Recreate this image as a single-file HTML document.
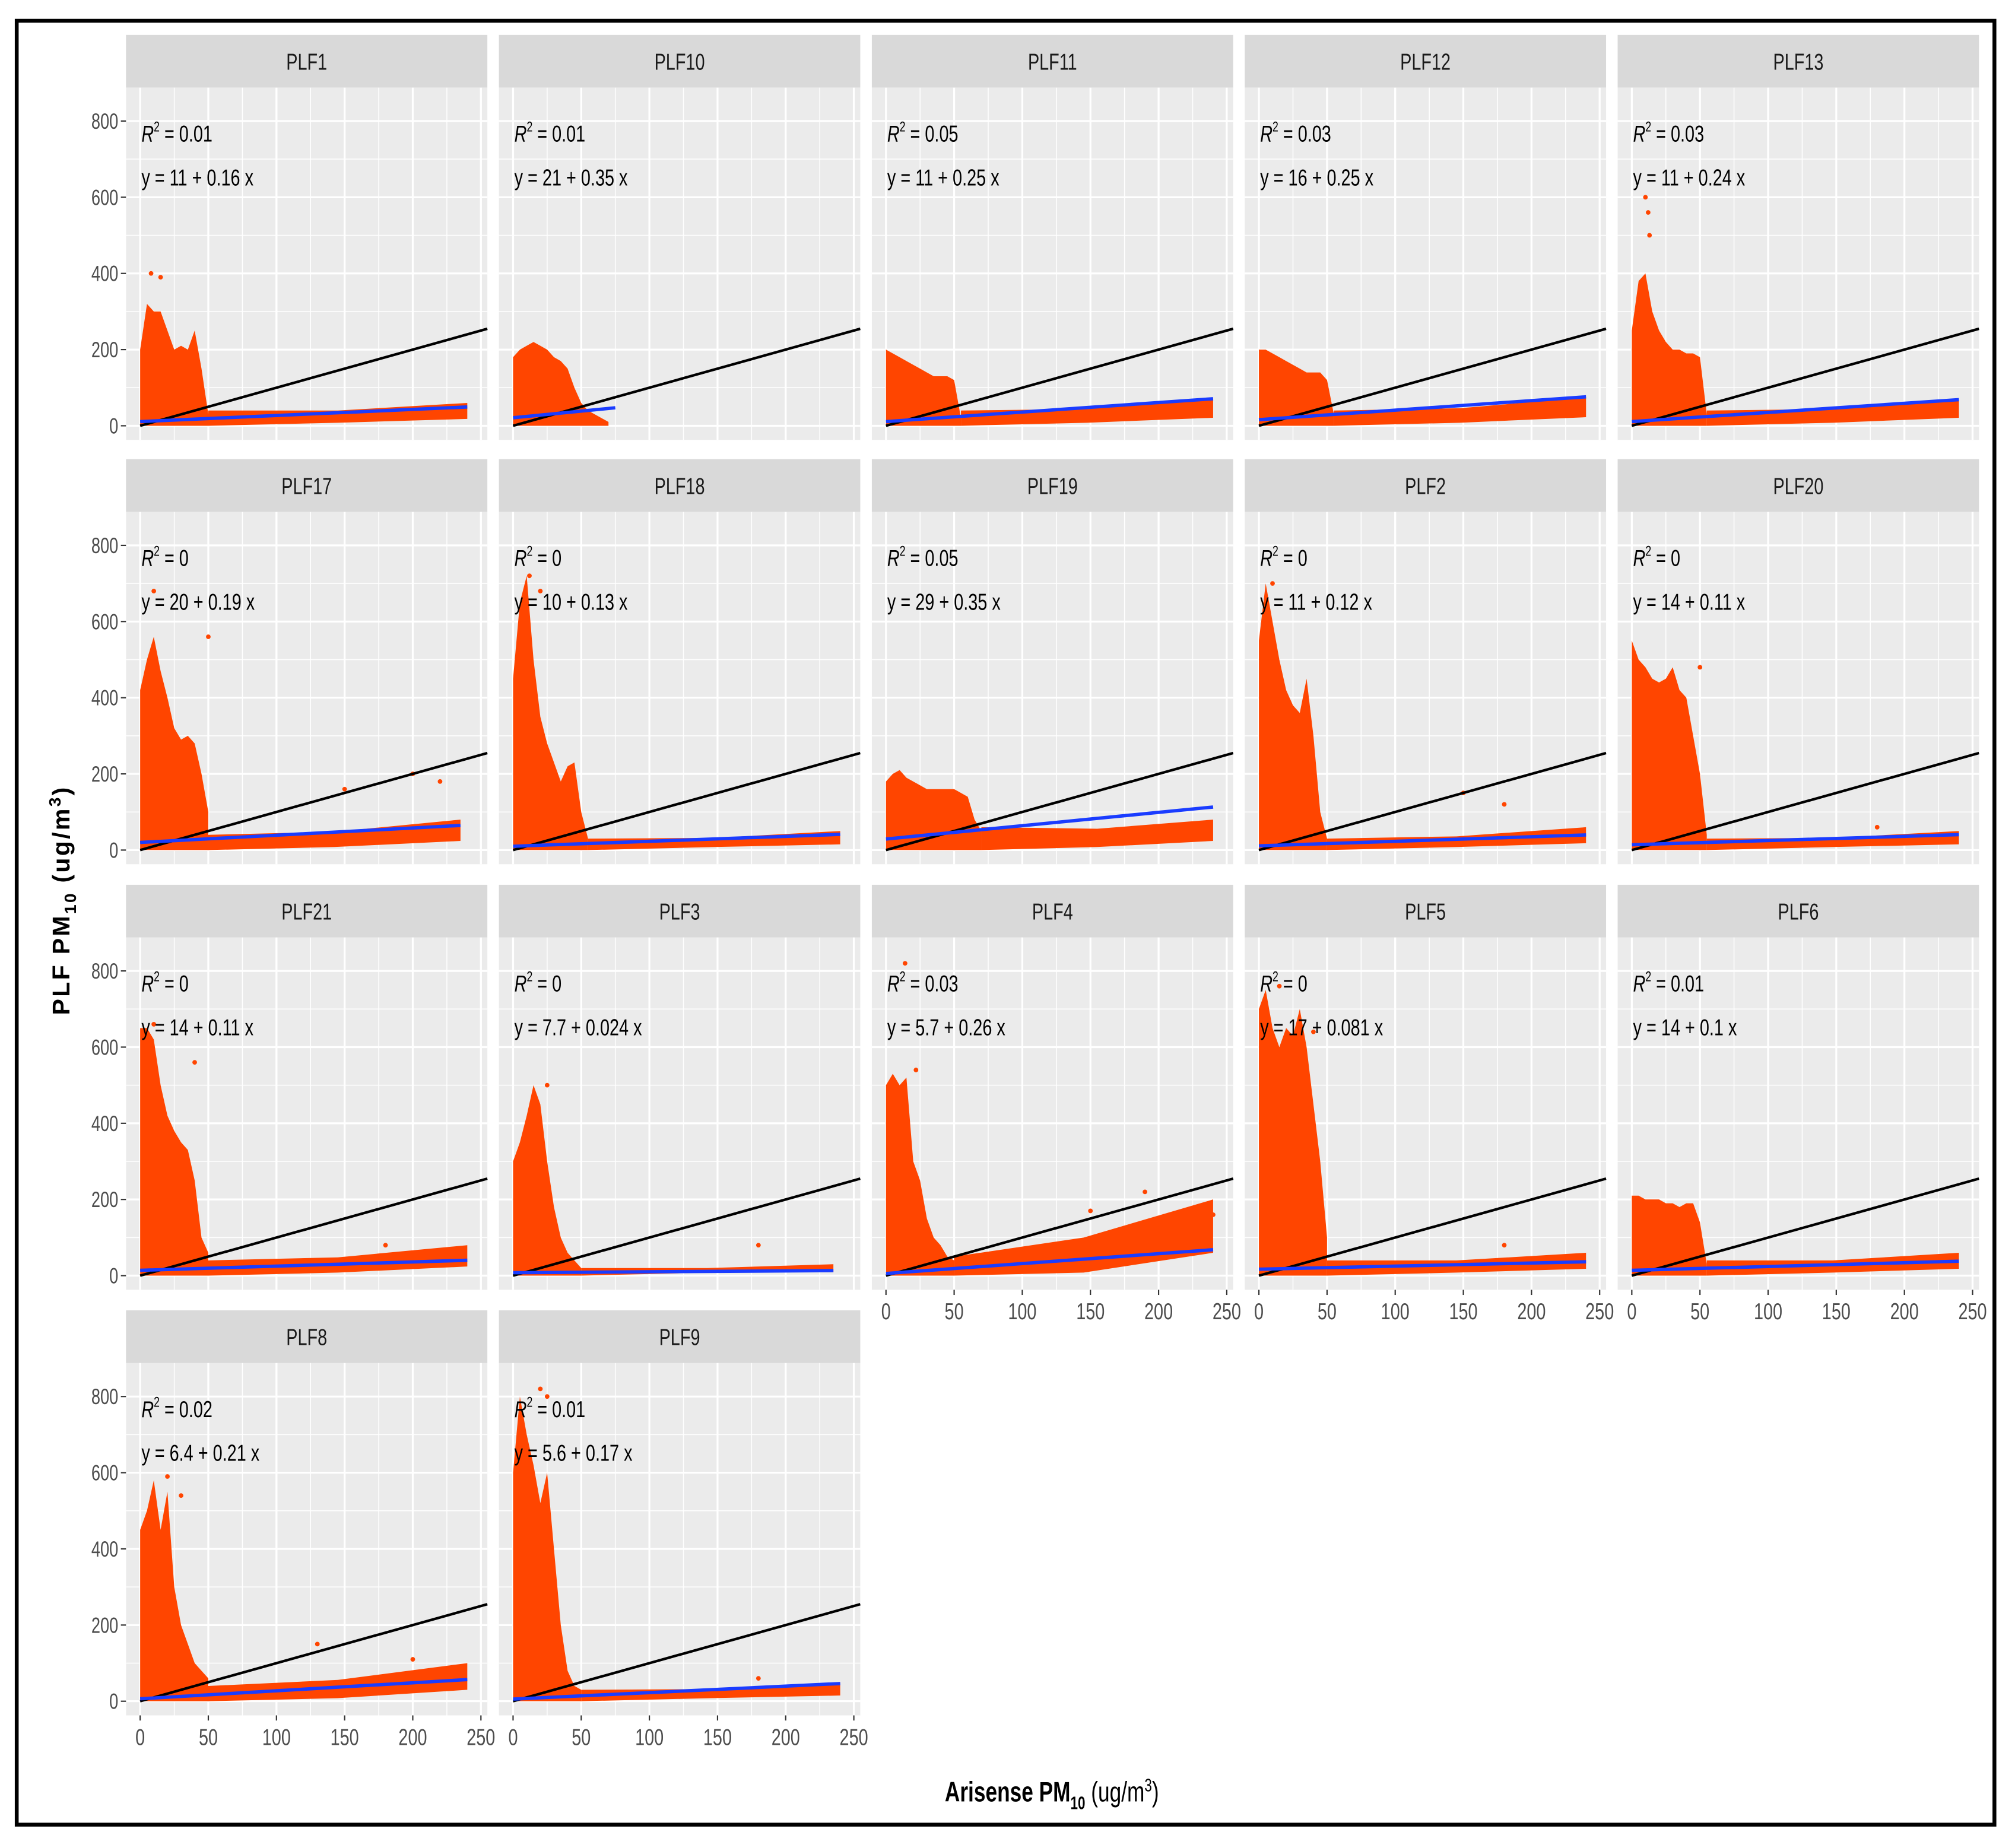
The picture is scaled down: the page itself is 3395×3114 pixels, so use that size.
<!DOCTYPE html>
<html><head><meta charset="utf-8">
<style>
html,body{margin:0;padding:0;background:#fff;}
svg{display:block;}
text{font-family:"Liberation Sans Narrow","Liberation Sans",sans-serif;}
</style></head>
<body>
<svg id="chart" width="3395" height="3114" viewBox="0 0 1567 1437" xmlns="http://www.w3.org/2000/svg">
<rect x="0" y="0" width="1567" height="1437" fill="#fff"/>
<rect x="13" y="16" width="1538" height="1403" fill="none" stroke="#000" stroke-width="3"/>
<g id="panels"></g>
<text transform="translate(54,700) rotate(-90)" text-anchor="middle" font-size="19" font-weight="bold" letter-spacing="1.5" font-family="Liberation Sans,sans-serif">PLF PM<tspan font-size="13" dy="5">10</tspan><tspan dy="-5"> (ug/m</tspan><tspan font-size="13" dy="-7">3</tspan><tspan dy="7">)</tspan></text>
<text class="cond" x="818" y="1401" text-anchor="middle" font-size="22" font-weight="bold">Arisense PM<tspan font-size="14" dy="6">10</tspan><tspan dy="-6" font-weight="normal"> (ug/m</tspan><tspan font-size="14" dy="-8" font-weight="normal">3</tspan><tspan dy="8" font-weight="normal">)</tspan></text>
</svg>
<script>
// ---- data ----
const panelNames = ["PLF1","PLF10","PLF11","PLF12","PLF13","PLF17","PLF18","PLF19","PLF2","PLF20","PLF21","PLF3","PLF4","PLF5","PLF6","PLF8","PLF9"];
const r2Values = ["0.01","0.01","0.05","0.03","0.03","0","0","0.05","0","0","0","0","0.03","0","0.01","0.02","0.01"];
const intercepts = [11,21,11,16,11,20,10,29,11,14,14,7.7,5.7,17,14,6.4,5.6];
const slopes = [0.16,0.35,0.25,0.25,0.24,0.19,0.13,0.35,0.12,0.11,0.11,0.024,0.26,0.081,0.1,0.21,0.17];
const eqLabels = ["y = 11 + 0.16 x","y = 21 + 0.35 x","y = 11 + 0.25 x","y = 16 + 0.25 x","y = 11 + 0.24 x","y = 20 + 0.19 x","y = 10 + 0.13 x","y = 29 + 0.35 x","y = 11 + 0.12 x","y = 14 + 0.11 x","y = 14 + 0.11 x","y = 7.7 + 0.024 x","y = 5.7 + 0.26 x","y = 17 + 0.081 x","y = 14 + 0.1 x","y = 6.4 + 0.21 x","y = 5.6 + 0.17 x"];
// dense-cloud upper envelope, sampled every 5 ug/m3 from x=0
const denseEnvelopes = [
 [200,320,300,300,250,200,210,200,250,150,30],
 [180,200,210,220,210,200,180,170,150,100,60,40,30,20,10],
 [200,190,180,170,160,150,140,130,130,130,120,20],
 [200,200,190,180,170,160,150,140,140,140,120,30],
 [250,380,400,300,250,220,200,200,190,190,180,30],
 [420,500,560,470,400,320,290,300,280,200,100],
 [450,650,720,500,350,280,230,180,220,230,100,30],
 [180,200,210,190,180,170,160,160,160,160,160,150,140,80,50],
 [550,700,600,500,420,380,360,450,300,100,30],
 [550,500,480,450,440,450,480,420,400,300,200,40],
 [650,650,620,500,420,380,350,330,250,100,60],
 [300,350,420,500,450,300,180,100,60,40,20],
 [500,530,500,520,300,250,150,100,80,50,40],
 [700,750,650,600,650,630,700,600,450,300,100],
 [210,210,200,200,200,190,190,180,190,190,140,30],
 [450,500,580,450,550,300,200,150,100,80,60],
 [600,800,700,620,520,600,400,200,80,40,30]
];
// low tail cloud top at start and at x=240 (0 = none)
const tailStartTop = [40,0,40,40,40,40,30,60,30,30,40,20,50,40,40,40,30];
const tailEndTop = [60,0,70,75,70,80,50,80,60,50,80,30,200,60,60,100,50];
const xMax = [240,75,240,240,240,235,240,240,240,240,240,235,240,240,240,240,240];
// sparse outliers [x,y]
const outliers = [
 [[8,400],[15,390]],
 [],
 [],
 [],
 [[10,600],[12,560],[13,500]],
 [[10,680],[50,560],[150,160],[200,200],[220,180]],
 [[12,720],[20,680]],
 [],
 [[10,700],[150,150],[180,120]],
 [[50,480],[180,60]],
 [[10,660],[40,560],[180,80]],
 [[25,500],[180,80]],
 [[14,820],[22,540],[150,170],[190,220],[240,160]],
 [[15,760],[40,640],[180,80]],
 [],
 [[20,590],[30,540],[130,150],[200,110]],
 [[20,820],[25,800],[180,60]]
];
const yTicks = [0,200,400,600,800];
const xTicks = [0,50,100,150,200,250];

// ---- layout ----
const colX = [98,388,678,968,1258], PW = 281;
const rowY = [27,357,688,1019], SH = 41, PH = 274;
const NS = "http://www.w3.org/2000/svg";
const root = document.getElementById("panels");
function el(tag, attrs, parent){ const e=document.createElementNS(NS,tag); for(const k in attrs) e.setAttribute(k,attrs[k]); (parent||root).appendChild(e); return e; }

panelNames.forEach((name,i)=>{
  const c=i%5, r=Math.floor(i/5);
  const x0=colX[c], st=rowY[r], pt=st+SH;
  const X = v => x0+11+v*1.06;
  const Y = v => pt+263-v*0.29625;
  const g = el("g",{});
  
  
  const strip = el("rect",{x:x0,y:st,width:PW,height:SH,fill:"#d9d9d9"},g);
  
  
  const st_t = el("text",{x:x0+PW/2,y:st+27,"text-anchor":"middle","font-size":"18",fill:"#1a1a1a","class":"cond"},g);
  st_t.textContent=name;
  
  
  const bg = el("rect",{x:x0,y:pt,width:PW,height:PH,fill:"#ebebeb"},g);
  
  
  [100,300,500,700].forEach(v=>el("line",{x1:x0,x2:x0+PW,y1:Y(v),y2:Y(v),stroke:"#fff","stroke-width":0.7},g));
  [25,75,125,175,225].forEach(v=>el("line",{y1:pt,y2:pt+PH,x1:X(v),x2:X(v),stroke:"#fff","stroke-width":0.7},g));
  yTicks.forEach(v=>el("line",{x1:x0,x2:x0+PW,y1:Y(v),y2:Y(v),stroke:"#fff","stroke-width":1.5},g));
  xTicks.forEach(v=>el("line",{y1:pt,y2:pt+PH,x1:X(v),x2:X(v),stroke:"#fff","stroke-width":1.5},g));
  const env=denseEnvelopes[i];
  let pts=[[X(0),Y(0)]];
  env.forEach((h,k)=>pts.push([X(k*5),Y(h)]));
  pts.push([X((env.length-1)*5),Y(0)]);
  const cloud=el("polygon",{points:pts.map(p=>p.join(",")).join(" "),fill:"#ff4500"},g);
  
  
  if(tailEndTop[i]>0){
    const xs=(env.length-1)*5, xe=xMax[i];
    const tp=[[X(xs),Y(0)],[X(xs),Y(tailStartTop[i])],[X((xs+xe)/2),Y((tailStartTop[i]+tailEndTop[i])/2*0.8)],[X(xe),Y(tailEndTop[i])],[X(xe),Y(tailEndTop[i]*0.3)],[X((xs+xe)/2),Y(8)]];
    const tail=el("polygon",{points:tp.map(p=>p.join(",")).join(" "),fill:"#ff4500"},g);
    
    
  }
  outliers[i].forEach(o=>{
    const d=el("circle",{cx:X(o[0]),cy:Y(o[1]),r:1.8,fill:"#ff4500"},g);
    
    
  });
  const one=el("line",{x1:X(0),y1:Y(0),x2:X(254.7),y2:Y(254.7),stroke:"#000","stroke-width":2},g);
  
  
  const a=intercepts[i], b=slopes[i];
  const reg=el("line",{x1:X(0),y1:Y(a),x2:X(xMax[i]),y2:Y(a+b*xMax[i]),stroke:"#1a3cff","stroke-width":2.6},g);
  
  
  const r2t=el("text",{x:x0+12,y:pt+42,"font-size":"18",fill:"#000","class":"cond"},g);
  r2t.innerHTML='<tspan font-style="italic">R</tspan><tspan font-size="11" dy="-8">2</tspan><tspan dy="8"> = '+r2Values[i]+'</tspan>';
  
  
  const eq=el("text",{x:x0+12,y:pt+76,"font-size":"18",fill:"#000","class":"cond"},g);
  eq.textContent=eqLabels[i];
  
  
  if(c===0){
    yTicks.forEach(v=>{
      el("line",{x1:x0-4,x2:x0,y1:Y(v),y2:Y(v),stroke:"#333","stroke-width":1},g);
      const t=el("text",{x:x0-6,y:Y(v)+6,"text-anchor":"end","font-size":"17",fill:"#4d4d4d","class":"cond"},g);
      t.textContent=v;
      
      
    });
  }
  if(r===3 || (r===2 && c>=2)){
    xTicks.forEach(v=>{
      el("line",{x1:X(v),x2:X(v),y1:pt+PH,y2:pt+PH+4,stroke:"#333","stroke-width":1},g);
      const t=el("text",{x:X(v),y:pt+PH+23,"text-anchor":"middle","font-size":"18",fill:"#4d4d4d","class":"cond"},g);
      t.textContent=v;
      
      
    });
  }
});
// condense text horizontally to mimic narrow font
document.querySelectorAll('text.cond').forEach(t=>{
  const w=t.getComputedTextLength();
  if(w>0){ t.setAttribute('textLength', (w*0.74).toFixed(1)); t.setAttribute('lengthAdjust','spacingAndGlyphs'); }
});
</script>
</body></html>
